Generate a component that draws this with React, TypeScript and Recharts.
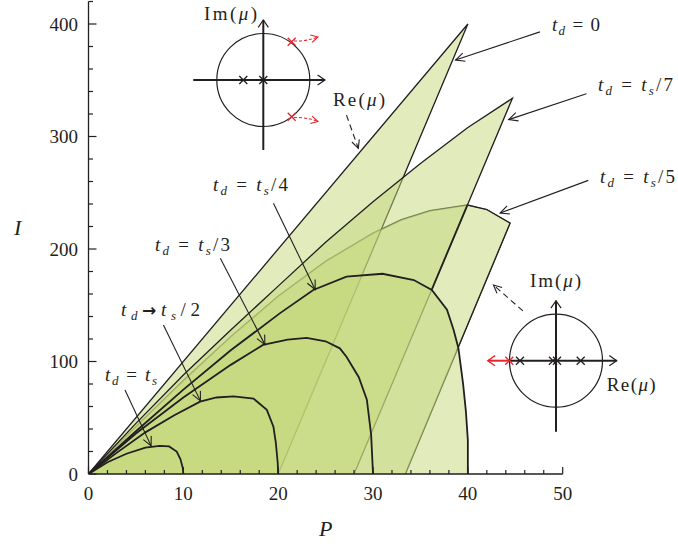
import React from 'react';
import { ComposedChart, Area, Line, XAxis, YAxis, ReferenceLine, Customized } from 'recharts';

const FONT = '"Liberation Serif", "DejaVu Serif", serif';
const INK = '#231f20';
const GREEN = '#c3d779';
const GREEN_ALPHA = 0.5;
const RED = '#e3262b';

// axis ticks
const xTicks = [0, 2, 4, 6, 8, 10, 12, 14, 16, 18, 20, 22, 24, 26, 28, 30, 32, 34, 36, 38, 40, 42, 44, 46, 48, 50];
const yTicks = [0, 20, 40, 60, 80, 100, 120, 140, 160, 180, 200, 220, 240, 260, 280, 300, 320, 340, 360, 380, 400, 420];

// t_d = 0 : stable triangle
const tdZeroP = [0, 40, 20];
const tdZeroI = [0, 400, 0];

// t_d = t_s/7 : curved upper edge, straight flip edge back to the axis
const tsSevenP = [0, 5, 10, 15, 20, 25, 30, 35, 40, 44.7, 28];
const tsSevenI = [0, 45, 88, 128, 167, 206, 242, 276, 308, 334, 0];

// t_d = t_s/5
const tsFiveP = [0, 5, 10, 15, 20, 25, 30, 33, 36, 39.95, 42, 44.45, 33.4];
const tsFiveI = [0, 42, 83, 122, 158, 189, 214, 226, 234, 239, 235, 223, 0];

// t_s/5 edge outside the t_s/7 region, down to where it meets the t_s/4 curve
const tsFiveOuterP = [39.95, 42, 44.45, 38.85];
const tsFiveOuterI = [239, 235, 223, 110];

// t_d = t_s/4
const tsFourP = [0, 5, 10, 15, 20.2, 23.7, 27.2, 31, 34.3, 36.2, 37.8, 38.5, 39, 39.5, 39.8, 40, 40];
const tsFourI = [0, 38, 75, 110, 143, 163.6, 175.4, 178, 172.4, 163.6, 146, 128, 112, 80, 55, 30, 0];

// t_d = t_s/3
const tsThreeP = [0, 5, 10, 15, 18.4, 21, 23, 25, 26.5, 27.2, 28.5, 29.35, 29.8, 30];
const tsThreeI = [0, 36, 68, 97, 114.7, 119.5, 121, 118, 111.7, 104.3, 86, 66, 35, 0];

// t_d -> t_s/2
const tsHalfP = [0, 3, 6, 9, 11.76, 13.5, 15.3, 17.4, 18.8, 19.5, 19.75, 19.95, 20];
const tsHalfI = [0, 19, 37, 52, 64.3, 68, 69, 67, 57, 42, 28, 10, 0];

// t_d = t_s
const tsOneP = [0, 2, 4, 6, 7.5, 8.5, 9.3, 9.7, 9.95, 10];
const tsOneI = [0, 10.5, 18, 23.5, 25, 24.5, 20, 13, 5, 0];

// part of the t_s/7 flip edge between the t_s/4 and t_s/5 curves
const flipSegP = [36.2, 39.95];
const flipSegI = [164, 239];

const zip = (ps: number[], is: number[]) => ps.map((P, k) => ({ P, I: is[k] }));

const tdZero = zip(tdZeroP, tdZeroI);
const tsSeven = zip(tsSevenP, tsSevenI);
const tsFive = zip(tsFiveP, tsFiveI);
const tsFiveOuter = zip(tsFiveOuterP, tsFiveOuterI);
const tsFour = zip(tsFourP, tsFourI);
const tsThree = zip(tsThreeP, tsThreeI);
const tsHalf = zip(tsHalfP, tsHalfI);
const tsOne = zip(tsOneP, tsOneI);
const flipSeg = zip(flipSegP, flipSegI);

// label pointers, [P, I] from -> to
const pointers = [
  { from: [47.6, 393], to: [38.7, 368] },
  { from: [52.5, 338], to: [44.3, 315] },
  { from: [52.7, 261], to: [43.4, 232] },
  { from: [19.5, 240.6], to: [23.9, 164] },
  { from: [13.9, 191.7], to: [18.6, 115] },
  { from: [7.9, 132.4], to: [11.8, 65] },
  { from: [3.85, 74.7], to: [6.6, 25] },
];
const dashedPointers = [
  { from: [27.2, 319], to: [28.45, 289.5] },
  { from: [45.8, 145], to: [42.7, 168] },
];

const head = (x1: number, y1: number, x2: number, y2: number, len = 10, half = 0.45) => {
  const a = Math.atan2(y2 - y1, x2 - x1);
  const ax = x2 - len * Math.cos(a - half);
  const ay = y2 - len * Math.sin(a - half);
  const bx = x2 - len * Math.cos(a + half);
  const by = y2 - len * Math.sin(a + half);
  return `M${ax},${ay}L${x2},${y2}L${bx},${by}`;
};

const pointerShape = (dashed: boolean) => (props: any) => {
  const { x1, y1, x2, y2 } = props;
  return (
    <g>
      <line x1={x1} y1={y1} x2={x2} y2={y2} stroke={INK} strokeWidth={1.1}
        strokeDasharray={dashed ? '6 4' : undefined} />
      <path d={head(x1, y1, x2, y2, dashed ? 9 : 10)} fill="none" stroke={INK} strokeWidth={1.1} />
    </g>
  );
};

const XTick = (props: any) => {
  const { x, y, payload } = props;
  const major = payload.value % 10 === 0;
  return (
    <g>
      <line x1={x} y1={y} x2={x} y2={y - (major ? 7 : 4)} stroke={INK} strokeWidth={1.2} />
      {major && (
        <text x={x} y={y + 26} textAnchor="middle" fontFamily={FONT} fontSize={19} fill={INK}>
          {payload.value}
        </text>
      )}
    </g>
  );
};

const YTick = (props: any) => {
  const { x, y, payload } = props;
  const major = payload.value % 100 === 0;
  return (
    <g>
      <line x1={x} y1={y} x2={x + (major ? 8 : 4.5)} y2={y} stroke={INK} strokeWidth={1.2} />
      {major && (
        <text x={x - 10.5} y={y + 6.5} textAnchor="end" fontFamily={FONT} fontSize={19} fill={INK}>
          {payload.value}
        </text>
      )}
    </g>
  );
};

// "t_d = ..." annotation
const TdLabel = ({ x, y, rel, den, zero, len }: { x: number; y: number; rel: string; den?: string; zero?: boolean; len: number }) => (
  <text x={x} y={y} fontFamily={FONT} fontSize={19} fill={INK} textLength={len} lengthAdjust="spacing"
    style={{ whiteSpace: 'pre' }}>
    <tspan fontStyle="italic">t</tspan>
    <tspan fontStyle="italic" fontSize={13} dy={4}>d</tspan>
    {rel === '→' ? (
      <tspan dy={-4} fontFamily='"DejaVu Sans"' fontWeight="bold" fontSize={17}>{'→'}</tspan>
    ) : (
      <tspan dy={-4}>{` ${rel} `}</tspan>
    )}
    {zero ? (
      <tspan>0</tspan>
    ) : (
      <>
        <tspan fontStyle="italic">t</tspan>
        <tspan fontStyle="italic" fontSize={13} dy={4}>s</tspan>
        {den && <tspan dy={-4}>{`/${den}`}</tspan>}
      </>
    )}
  </text>
);

const MuLabel = ({ x, y, part, len }: { x: number; y: number; part: string; len: number }) => (
  <text x={x} y={y} fontFamily={FONT} fontSize={19} fill={INK} textLength={len} lengthAdjust="spacing">
    <tspan>{`${part}(`}</tspan>
    <tspan fontStyle="italic">μ</tspan>
    <tspan>)</tspan>
  </text>
);

const Cross = ({ x, y, color = INK, s = 4 }: { x: number; y: number; color?: string; s?: number }) => (
  <path d={`M${x - s},${y - s}L${x + s},${y + s}M${x - s},${y + s}L${x + s},${y - s}`} stroke={color} strokeWidth={1.3} />
);

// unit circle sketch with its two axes
const UnitCircle = ({ cx, cy, left, right, top, bottom }: { cx: number; cy: number; left: number; right: number; top: number; bottom: number }) => (
  <g>
    <circle cx={cx} cy={cy} r={46.5} fill="none" stroke={INK} strokeWidth={1.2} />
    <line x1={left} y1={cy} x2={right} y2={cy} stroke={INK} strokeWidth={2} />
    <path d={head(left, cy, right, cy, 9, 0.6)} fill="none" stroke={INK} strokeWidth={1.2} />
    <line x1={cx} y1={bottom} x2={cx} y2={top} stroke={INK} strokeWidth={2} />
    <path d={head(cx, bottom, cx, top, 9, 0.6)} fill="none" stroke={INK} strokeWidth={1.2} />
  </g>
);

const Annotations = () => (
  <g>
    {/* axis titles */}
    <text x={14} y={235} fontFamily={FONT} fontSize={22} fontStyle="italic" fill={INK}>I</text>
    <text x={319} y={536} fontFamily={FONT} fontSize={22} fontStyle="italic" fill={INK}>P</text>

    <TdLabel x={552} y={31} rel="=" zero len={48} />
    <TdLabel x={598} y={91} rel="=" den="7" len={75} />
    <TdLabel x={600} y={183} rel="=" den="5" len={75} />
    <TdLabel x={213} y={191} rel="=" den="4" len={75} />
    <TdLabel x={155} y={251} rel="=" den="3" len={75} />
    <TdLabel x={121} y={316} rel="→" den="2" len={79} />
    <TdLabel x={105} y={381} rel="=" len={52} />

    {/* complex pair leaving the unit circle */}
    <UnitCircle cx={263.3} cy={80} left={193.3} right={325} top={20} bottom={150} />
    <Cross x={243.3} y={80} />
    <Cross x={263.3} y={80} />
    <Cross x={291.7} y={41.7} color={RED} />
    <Cross x={291.7} y={116.7} color={RED} />
    <path d="M294,41 Q306,41.5 318,37" fill="none" stroke={RED} strokeWidth={1.1} strokeDasharray="3 2" />
    <path d={head(306, 40, 318, 37, 8, 0.5)} fill="none" stroke={RED} strokeWidth={1.1} />
    <path d="M294,117.5 Q306,117 318,121.5" fill="none" stroke={RED} strokeWidth={1.1} strokeDasharray="3 2" />
    <path d={head(306, 118.5, 318, 121.5, 8, 0.5)} fill="none" stroke={RED} strokeWidth={1.1} />
    <MuLabel x={204} y={20} part="Im" len={53} />
    <MuLabel x={333} y={106} part="Re" len={52} />

    {/* real multiplier leaving through -1 */}
    <UnitCircle cx={556} cy={360.7} left={509.3} right={616.7} top={300.7} bottom={431.7} />
    <line x1={509.3} y1={360.7} x2={488} y2={360.7} stroke={RED} strokeWidth={2} />
    <path d={head(509.3, 360.7, 487.7, 360.7, 9, 0.6)} fill="none" stroke={RED} strokeWidth={1.3} />
    <Cross x={509.3} y={360.7} color={RED} />
    <Cross x={520} y={360.7} />
    <Cross x={553} y={360.7} />
    <Cross x={557} y={360.7} />
    <Cross x={580.7} y={360.7} />
    <MuLabel x={530} y={287} part="Im" len={51} />
    <MuLabel x={606.7} y={391} part="Re" len={49} />
  </g>
);

export default function App() {
  return (
    <div style={{ position: 'absolute', left: 0, top: 0, width: 678, height: 546, background: '#fff' }}>
      <ComposedChart width={678} height={546} margin={{ top: 1.5, right: 115.3, bottom: 12, left: 8.5 }}>
        <XAxis
          dataKey="P"
          type="number"
          domain={[0, 50]}
          ticks={xTicks}
          interval={0}
          allowDataOverflow
          height={60}
          tickSize={0}
          tickMargin={0}
          tickLine={false}
          tick={<XTick />}
          axisLine={{ stroke: INK, strokeWidth: 1.3 }}
        />
        <YAxis
          dataKey="I"
          type="number"
          domain={[0, 420]}
          ticks={yTicks}
          interval={0}
          allowDataOverflow
          width={80}
          tickSize={0}
          tickMargin={0}
          tickLine={false}
          tick={<YTick />}
          axisLine={{ stroke: INK, strokeWidth: 1.3 }}
        />

        {/* t_s/5 boundary sits underneath the other fills */}
        <Area data={tsFive} dataKey="I" type="linear" fill="none" stroke={INK} strokeWidth={1.5}
          dot={false} activeDot={false} isAnimationActive={false} />
        <Area data={tdZero} dataKey="I" type="linear" fill={GREEN} fillOpacity={GREEN_ALPHA}
          stroke={INK} strokeWidth={1.3} dot={false} activeDot={false} isAnimationActive={false} />
        <Area data={tsSeven} dataKey="I" type="linear" fill={GREEN} fillOpacity={GREEN_ALPHA}
          stroke={INK} strokeWidth={1.3} dot={false} activeDot={false} isAnimationActive={false} />
        <Area data={tsFive} dataKey="I" type="linear" fill={GREEN} fillOpacity={GREEN_ALPHA}
          stroke="none" dot={false} activeDot={false} isAnimationActive={false} />
        <Area data={tsFiveOuter} dataKey="I" type="linear" fill="none" stroke={INK} strokeWidth={1}
          dot={false} activeDot={false} isAnimationActive={false} />
        <Area data={tsFour} dataKey="I" type="linear" fill={GREEN} fillOpacity={GREEN_ALPHA}
          stroke="none" dot={false} activeDot={false} isAnimationActive={false} />

        {/* delay curves on top */}
        <Line data={tsFour} dataKey="I" type="linear" stroke={INK} strokeWidth={1.8} dot={false} activeDot={false} isAnimationActive={false} />
        <Line data={tsThree} dataKey="I" type="linear" stroke={INK} strokeWidth={1.8} dot={false} activeDot={false} isAnimationActive={false} />
        <Line data={tsHalf} dataKey="I" type="linear" stroke={INK} strokeWidth={1.8} dot={false} activeDot={false} isAnimationActive={false} />
        <Line data={tsOne} dataKey="I" type="linear" stroke={INK} strokeWidth={1.8} dot={false} activeDot={false} isAnimationActive={false} />
        <Line data={flipSeg} dataKey="I" type="linear" stroke={INK} strokeWidth={1.8} dot={false} activeDot={false} isAnimationActive={false} />

        {pointers.map((p, k) => (
          <ReferenceLine key={`p${k}`} segment={[{ x: p.from[0], y: p.from[1] }, { x: p.to[0], y: p.to[1] }]}
            ifOverflow="visible" shape={pointerShape(false)} />
        ))}
        {dashedPointers.map((p, k) => (
          <ReferenceLine key={`d${k}`} segment={[{ x: p.from[0], y: p.from[1] }, { x: p.to[0], y: p.to[1] }]}
            ifOverflow="visible" shape={pointerShape(true)} />
        ))}

        <Customized component={<Annotations />} />
      </ComposedChart>
    </div>
  );
}
